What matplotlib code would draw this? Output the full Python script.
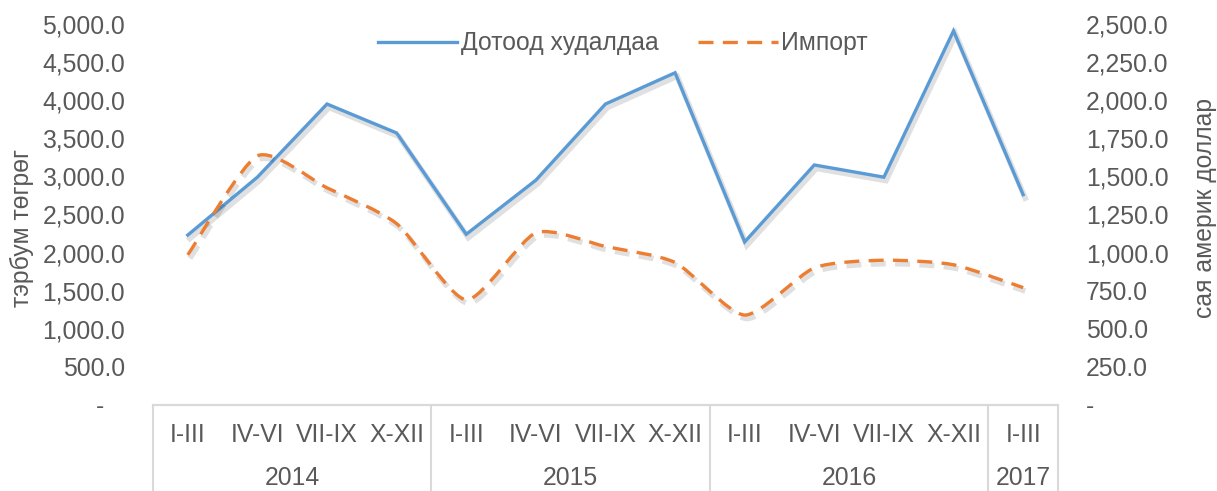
import matplotlib
matplotlib.use("Agg")
import matplotlib.pyplot as plt
import matplotlib.patheffects as pe
from matplotlib.path import Path
from matplotlib.patches import PathPatch
from matplotlib.lines import Line2D
import matplotlib.transforms as mtransforms
import numpy as np

plt.rcParams['font.family'] = ['Liberation Sans', 'DejaVu Sans']

quarters = ['I-III', 'IV-VI', 'VII-IX', 'X-XII',
            'I-III', 'IV-VI', 'VII-IX', 'X-XII',
            'I-III', 'IV-VI', 'VII-IX', 'X-XII',
            'I-III']
years = ['2014', '2015', '2016', '2017']
year_sizes = [4, 4, 4, 1]
domestic = [2230, 2990, 3950, 3570, 2240, 2950, 3950, 4360,
            2140, 3150, 2990, 4910, 2760]          # тэрбум төгрөг
imports = [985, 1635, 1425, 1190, 690, 1130, 1040, 935,
           590, 900, 950, 920, 770]                 # сая ам.доллар

TXT = '#595959'
GRID = '#D9D9D9'
BLUE = '#5B9BD5'
ORANGE = '#ED7D31'
FS = 17.8

fig = plt.figure(figsize=(12.17, 4.91), dpi=100)
ax = fig.add_axes([0.1257, 0.1752, 0.7436, 0.7759])
ax2 = ax.twinx()

x = np.arange(len(quarters))
shadow = [pe.SimpleLineShadow(offset=(1.5, -2.5), shadow_color='k', alpha=0.12,
                              linewidth=4),
          pe.Normal()]

ax.plot(x, domestic, color=BLUE, lw=2.4, path_effects=shadow,
        solid_joinstyle='miter')

# smoothed import line (bezier through the data points, low tension)
k = 1 / 9
pts = np.column_stack([x, imports]).astype(float)
verts = [pts[0]]
codes = [Path.MOVETO]
n = len(pts)
for i in range(n - 1):
    p0 = pts[max(i - 1, 0)]
    p1 = pts[i]
    p2 = pts[i + 1]
    p3 = pts[min(i + 2, n - 1)]
    verts += [p1 + (p2 - p0) * k, p2 - (p3 - p1) * k, p2]
    codes += [Path.CURVE4] * 3
patch = PathPatch(Path(verts, codes), fill=False, edgecolor=ORANGE, lw=2.4,
                  linestyle=(0, (4.5, 2.8)), path_effects=shadow)
ax2.add_patch(patch)

ax.set_xlim(-0.5, len(quarters) - 0.5)
ax.set_ylim(0, 5000)
ax2.set_ylim(0, 2500)
ax.set_yticks(np.arange(0, 5001, 500))
ax2.set_yticks(np.arange(0, 2501, 250))
ax.set_yticklabels(['-   '] + [f'{v:,.1f}' for v in np.arange(500, 5001, 500)])
ax2.set_yticklabels(['-'] + [f'{v:,.1f}' for v in np.arange(250, 2501, 250)])
for a in (ax, ax2):
    a.tick_params(axis='y', length=0, pad=20, labelsize=FS, labelcolor=TXT)
    for s in ['top', 'left', 'right']:
        a.spines[s].set_visible(False)
    a.spines['bottom'].set_color(GRID)
    a.spines['bottom'].set_linewidth(1.5)
ax.set_xticks([])
ax2.set_xticks([])

# two-level category axis
trans = mtransforms.blended_transform_factory(ax.transData, ax.transAxes)
for i, q in enumerate(quarters):
    ax.annotate(q, (i, 0), xycoords=trans, xytext=(0, -30),
                textcoords='offset pixels', ha='center', va='center',
                fontsize=FS, color=TXT, annotation_clip=False)
start = 0
bounds = [-0.5]
for yr, size in zip(years, year_sizes):
    ax.annotate(yr, (start + (size - 1) / 2, 0), xycoords=trans,
                xytext=(0, -73), textcoords='offset pixels', ha='center',
                va='center', fontsize=FS, color=TXT, annotation_clip=False)
    start += size
    bounds.append(start - 0.5)
for b in bounds:
    ax.plot([b, b], [0, -0.4], transform=trans, color=GRID, lw=1.5,
            clip_on=False)

fig.text(0.018, 0.536, 'тэрбум төгрөг', rotation=90, ha='center',
         va='center', fontsize=FS, color=TXT)
fig.text(0.99, 0.576, 'сая америк доллар', rotation=90, ha='center',
         va='center', fontsize=FS, color=TXT)

handles = [Line2D([], [], color=BLUE, lw=2.4),
           Line2D([], [], color=ORANGE, lw=2.4, linestyle=(0, (4.5, 2.8)))]
fig.legend(handles, ['Дотоод худалдаа', 'Импорт'], loc='center',
           bbox_to_anchor=(0.512, 0.912), ncol=2, frameon=False,
           fontsize=FS, labelcolor=TXT, handlelength=3.2,
           handletextpad=0.15, columnspacing=1.6)

fig.savefig('out.png', dpi=100)
